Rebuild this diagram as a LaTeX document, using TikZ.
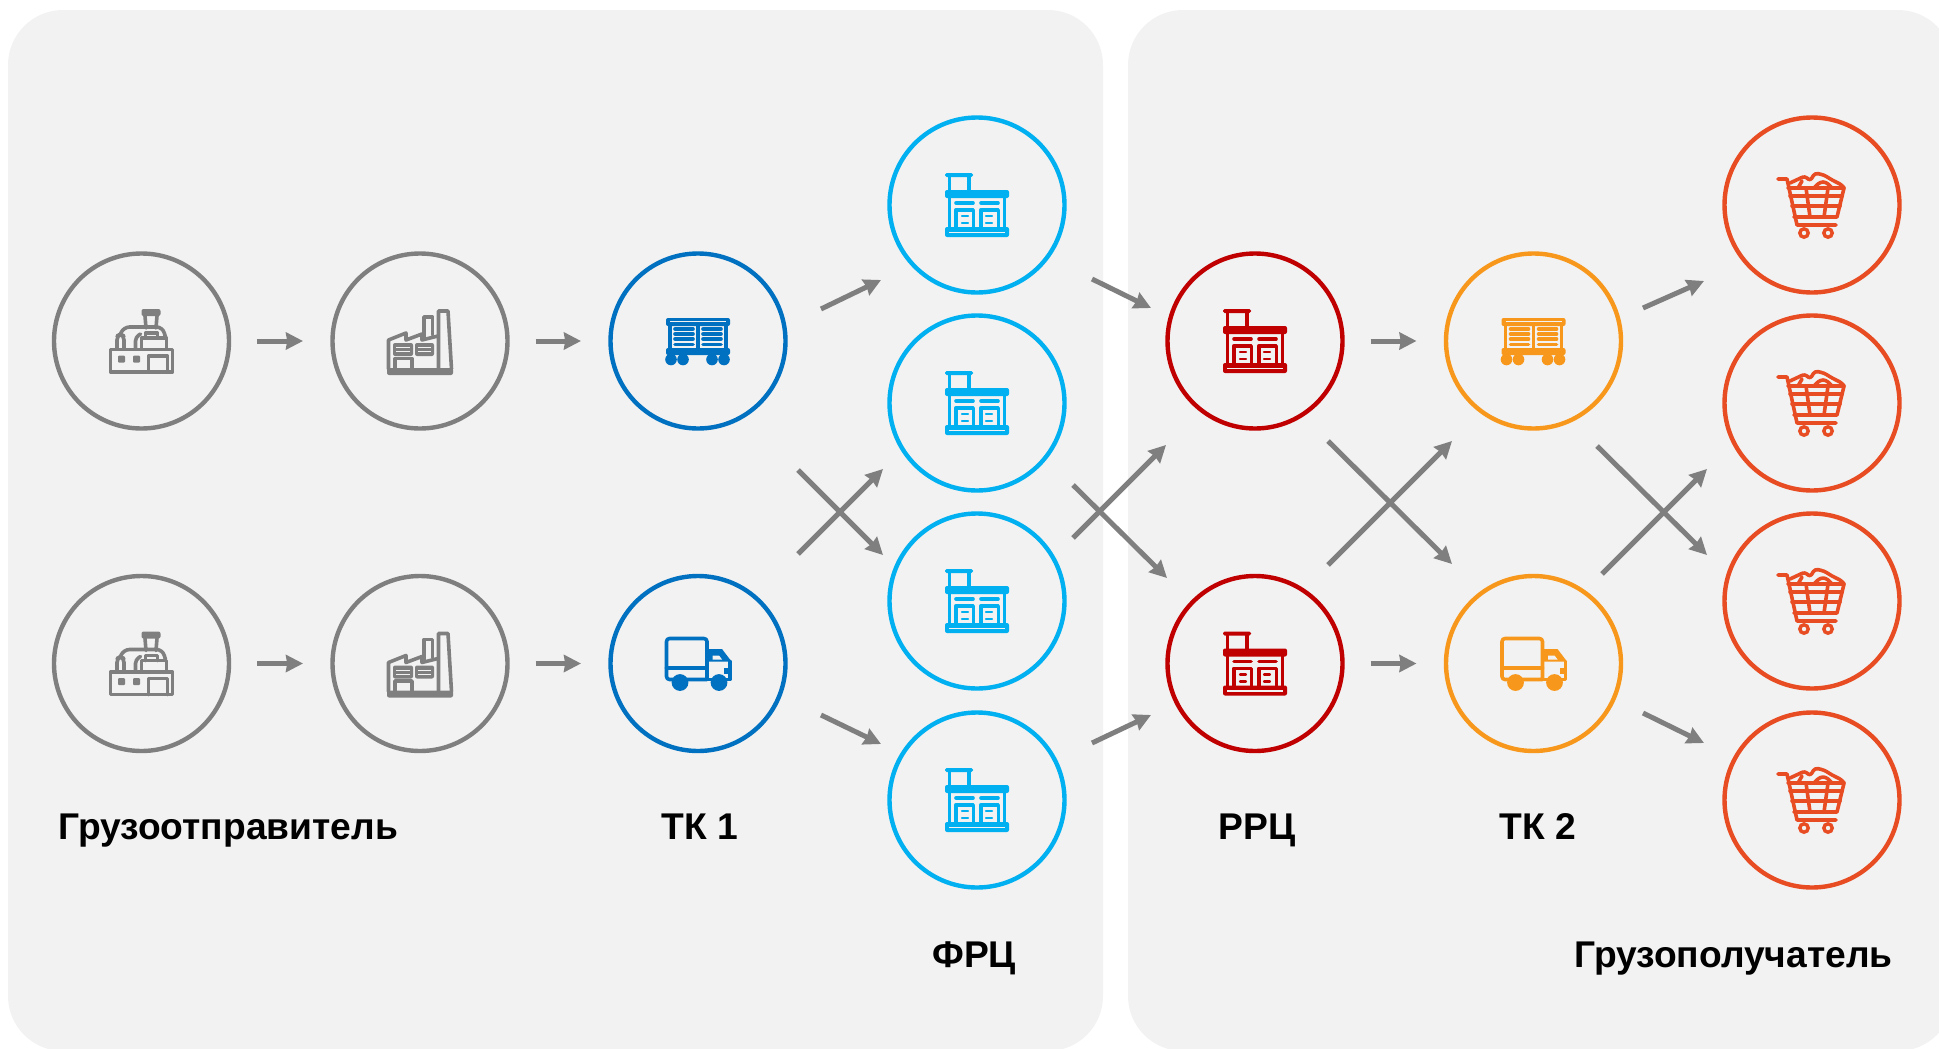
\documentclass[tikz,border=0pt]{standalone}
\usepackage{fontspec}
\setmainfont{Liberation Sans}
\usetikzlibrary{arrows.meta}

\definecolor{panelgray}{HTML}{F2F2F2}
\definecolor{sendergray}{HTML}{7F7F7F}
\definecolor{tkblue}{HTML}{0070C0}
\definecolor{frcblue}{HTML}{00B0F0}
\definecolor{rrcred}{HTML}{C00000}
\definecolor{tkorange}{HTML}{F7981D}
\definecolor{cartred}{HTML}{E84C22}

\tikzset{
 hub/.style={circle,draw=#1,line width=2.2pt,minimum size=87.5pt,inner sep=0pt,outer sep=0pt},
 flow/.style={draw=sendergray,line width=2.5pt,-{Stealth[length=8.5pt,width=8.5pt,inset=0.6pt]}},
 hflow/.style={flow,shorten <=14pt,shorten >=14.75pt},
 panel/.style={fill=panelgray,rounded corners=27.5pt},
 caption/.style={anchor=base west,inner sep=0pt,font=\fontsize{18.6}{22}\selectfont\bfseries},
 iconline/.style={line width=1.8pt,line cap=round,line join=round},
 thinline/.style={line width=1.1pt,line cap=round},
 warehouse/.pic={
  \fill[rounded corners=0.8pt] (-32,-32) rectangle (-4,-28);
  \draw[iconline] (-27.5,-28) -- (-27.5,-15);
  \draw[iconline] (-8,-28) -- (-8,-15);
  \fill[rounded corners=1pt] (-32,-15) rectangle (32,-7);
  \draw[iconline] (-27.5,-7) -- (-27.5,23);
  \draw[iconline] (27.5,-7) -- (27.5,23);
  \draw[iconline] (-21,-2) -- (-4,-2);
  \draw[iconline] (4,-2) -- (21,-2);
  \draw[iconline] (-21.3,23) -- (-21.3,5) -- (-3.7,5) -- (-3.7,23);
  \draw[iconline] (3.7,23) -- (3.7,5) -- (21.3,5) -- (21.3,23);
  \draw[thinline] (-15,11) -- (-9,11);
  \draw[thinline] (-15,18) -- (-9,18);
  \draw[thinline] (9,11) -- (15,11);
  \draw[thinline] (9,18) -- (15,18);
  \fill[rounded corners=1pt] (-32,22) rectangle (32,32);
  \draw[draw=panelgray,line width=0.6pt] (-28,27.5) -- (28,27.5);
 },
 traincar/.pic={
  \fill[rounded corners=1pt] (-32,-23) rectangle (32,-15);
  \draw[draw=panelgray,line width=0.4pt] (-28,-20) -- (28,-20);
  \draw[iconline] (-28,-15) -- (-28,7);
  \draw[iconline] (28,-15) -- (28,7);
  \draw[iconline] (0,-15) -- (0,7);
  \draw[iconline] (-23,-12) -- (-5,-12);
  \draw[iconline] (-23,-7) -- (-5,-7);
  \draw[iconline] (-23,-2) -- (-5,-2);
  \draw[iconline] (-23,3.5) -- (-5,3.5);
  \draw[iconline] (5,-12) -- (23,-12);
  \draw[iconline] (5,-7) -- (23,-7);
  \draw[iconline] (5,-2) -- (23,-2);
  \draw[iconline] (5,3.5) -- (23,3.5);
  \fill[rounded corners=1pt] (-32,7) rectangle (32,14);
  \fill (-27,18.5) circle [radius=2.9pt];
  \fill (-15,18.5) circle [radius=2.9pt];
  \fill (14,18.5) circle [radius=2.9pt];
  \fill (26,18.5) circle [radius=2.9pt];
 },
 lorry/.pic={
  \draw[iconline,rounded corners=1.5pt] (9,16) -- (9,-25) -- (-31.5,-25) -- (-31.5,16) -- (9,16);
  \draw[iconline] (-31.5,4.3) -- (9,4.3);
  \fill (9,-14.5) -- (24,-14.5) -- (33.5,-2) -- (9,-2) -- cycle;
  \fill[fill=panelgray] (14.7,-8) -- (21,-8) -- (24,-4) -- (14.7,-4) -- cycle;
  \draw[iconline] (32,-2) -- (32,16) -- (9,16);
  \fill (26,4) rectangle (32,10);
  \fill (-18,19) circle [radius=4.2pt];
  \fill (21,19) circle [radius=4.2pt];
 },
 cart/.pic={
  \draw[iconline] (-34,-26) -- (-25,-26) -- (-15,20) -- (24,20);
  \draw[iconline] (-24,-17) -- (32,-17) -- (25,12) -- (-18,12);
  \draw[iconline] (-22,-9) -- (30,-9);
  \draw[iconline] (-20,1) -- (28,1);
  \draw[iconline] (-6,-17) -- (-2,12);
  \draw[iconline] (16,-17) -- (12,12);
  \draw[iconline,rounded corners=1.5pt] (-22,-22) -- (-7,-29) -- (-2,-24) -- (3,-32) -- (12,-30) -- (20,-25) -- (30,-20) -- (32,-17);
  \draw[iconline,rounded corners=1.5pt] (2,-17) -- (8,-23) -- (14,-23) -- (20,-17);
  \draw[iconline,rounded corners=1.5pt] (-14,-17) -- (-10,-24);
  \draw[line width=1.7pt] (-8,28) circle [radius=2.1pt];
  \draw[line width=1.7pt] (16,28) circle [radius=2.1pt];
 },
 plantA/.pic={
  \draw[iconline] (-31,8.5) rectangle (31,31);
  \draw[iconline] (7,31) -- (7,15) -- (26,15) -- (26,31);
  \fill[rounded corners=0.5pt] (-23.5,14.5) rectangle (-16.5,21.5);
  \fill[rounded corners=0.5pt] (-8.5,14.5) rectangle (-1.5,21.5);
  \fill[rounded corners=1pt] (0,-32) rectangle (19,-25);
  \draw[iconline] (3.5,-25) -- (4.5,-13);
  \draw[iconline] (15.5,-25) -- (14.5,-13);
  \draw[iconline] (0,8) -- (0,-3) -- (25,-3) -- (25,8);
  \draw[iconline] (4,-3) -- (4,-8) -- (16,-8) -- (16,-3);
  \draw[iconline,rounded corners=2pt] (-24.5,8) -- (-24.5,-5) -- (-21,-7) -- (-17.5,-5) -- (-17.5,8);
  \draw[iconline,rounded corners=2pt] (-6,8) -- (-6,-4) -- (-1,-7);
  \draw[iconline,rounded corners=3pt] (-21,-7) -- (-18,-14) -- (21,-14) -- (24,-4);
 },
 plantB/.pic={
  \fill[rounded corners=1pt] (-33,27) rectangle (33,34);
  \draw[iconline] (-31.5,28) -- (-31.5,-1) -- (-14,-8) -- (-14,-1) -- (2,-7) -- (2,-1) -- (18,-5);
  \draw[iconline] (18.5,28) -- (18.5,-30) -- (28,-30) -- (31.5,28);
  \draw[iconline] (4,-3) -- (4,-24) -- (12.5,-24) -- (12.5,-6);
  \fill[rounded corners=1pt] (-27,2) rectangle (-7,15);
  \fill[rounded corners=1pt] (-5,2) rectangle (14,15);
  \draw[draw=panelgray,line width=0.4pt] (-24,6.5) -- (-10,6.5);
  \draw[draw=panelgray,line width=0.4pt] (-24,10.5) -- (-10,10.5);
  \draw[draw=panelgray,line width=0.4pt] (-2,6.5) -- (11,6.5);
  \draw[draw=panelgray,line width=0.4pt] (-2,10.5) -- (11,10.5);
  \draw[iconline] (-25,27) -- (-25,17.5) -- (-8,17.5) -- (-8,27);
 },
}

\begin{document}
\begin{tikzpicture}[x=0.5pt,y=-0.5pt]
\useasboundingbox (0,0) rectangle (1939,1049);
\clip (0,0) rectangle (1939,1049);

\fill[panel] (8,10) rectangle (1103,1051);
\fill[panel] (1128,10) rectangle (1953,1051);

\node[hub=sendergray] (sendAa) at (141.5,341) {};
\node[hub=sendergray] (sendAb) at (420,341) {};
\node[hub=tkblue] (tkAa) at (698,341) {};
\node[hub=sendergray] (sendBa) at (141.5,663.5) {};
\node[hub=sendergray] (sendBb) at (420,663.5) {};
\node[hub=tkblue] (tkAb) at (698,663.5) {};

\node[hub=frcblue] (frcA) at (977,205) {};
\node[hub=frcblue] (frcB) at (977,403) {};
\node[hub=frcblue] (frcC) at (977,601) {};
\node[hub=frcblue] (frcD) at (977,800) {};

\node[hub=rrcred] (rrcA) at (1255,341) {};
\node[hub=rrcred] (rrcB) at (1255,663.5) {};
\node[hub=tkorange] (tkBa) at (1533.5,341) {};
\node[hub=tkorange] (tkBb) at (1533.5,663.5) {};

\node[hub=cartred] (shopA) at (1812,205) {};
\node[hub=cartred] (shopB) at (1812,403) {};
\node[hub=cartred] (shopC) at (1812,601) {};
\node[hub=cartred] (shopD) at (1812,800) {};

\pic[color=sendergray] at (sendAa) {plantA};
\pic[color=sendergray] at (sendBa) {plantA};
\pic[color=sendergray] at (sendAb) {plantB};
\pic[color=sendergray] at (sendBb) {plantB};
\pic[color=tkblue] at (tkAa) {traincar};
\pic[color=tkblue] at (tkAb) {lorry};
\pic[color=frcblue] at (frcA) {warehouse};
\pic[color=frcblue] at (frcB) {warehouse};
\pic[color=frcblue] at (frcC) {warehouse};
\pic[color=frcblue] at (frcD) {warehouse};
\pic[color=rrcred] at (rrcA) {warehouse};
\pic[color=rrcred] at (rrcB) {warehouse};
\pic[color=tkorange] at (tkBa) {traincar};
\pic[color=tkorange] at (tkBb) {lorry};
\pic[color=cartred] at (shopA) {cart};
\pic[color=cartred] at (shopB) {cart};
\pic[color=cartred] at (shopC) {cart};
\pic[color=cartred] at (shopD) {cart};

\node[caption] (lblSender) at (58,839) {Грузоотправитель};
\node[caption] (lblTkA) at (661,839) {ТК 1};
\node[caption] (lblFrc) at (932,967) {ФРЦ};
\node[caption] (lblRrc) at (1218,839) {РРЦ};
\node[caption] (lblTkB) at (1499,839) {ТК 2};
\node[caption] (lblReceiver) at (1574,967) {Грузополучатель};

\draw[hflow] (sendAa) -- (sendAb);
\draw[hflow] (sendAb) -- (tkAa);
\draw[hflow] (sendBa) -- (sendBb);
\draw[hflow] (sendBb) -- (tkAb);
\draw[hflow] (rrcA) -- (tkBa);
\draw[hflow] (rrcB) -- (tkBb);

% free ends of the slanted arrows
\coordinate (tkAoutA) at (821,309);
\coordinate (frcInA) at (881,280);
\coordinate (tkAoutB) at (798,554);
\coordinate (frcInB) at (883,469);
\coordinate (tkAoutC) at (798,470);
\coordinate (frcInC) at (883,555);
\coordinate (tkAoutD) at (821,715);
\coordinate (frcInD) at (881,744);

\coordinate (frcOutA) at (1092,279);
\coordinate (rrcInA) at (1151,308);
\coordinate (frcOutB) at (1073,538);
\coordinate (rrcInB) at (1166,445);
\coordinate (frcOutC) at (1073,485);
\coordinate (rrcInC) at (1167,578);
\coordinate (frcOutD) at (1092,743);
\coordinate (rrcInD) at (1151,715);

\coordinate (rrcOutA) at (1328,565);
\coordinate (tkBinA) at (1452,441);
\coordinate (rrcOutB) at (1328,441);
\coordinate (tkBinB) at (1452,564);

\coordinate (tkBoutA) at (1643,308);
\coordinate (shopInA) at (1704,281);
\coordinate (tkBoutB) at (1602,574);
\coordinate (shopInB) at (1707,469);
\coordinate (tkBoutC) at (1597,446);
\coordinate (shopInC) at (1707,555);
\coordinate (tkBoutD) at (1643,713);
\coordinate (shopInD) at (1704,743);

\draw[flow] (tkAoutA) -- (frcInA);
\draw[flow] (tkAoutB) -- (frcInB);
\draw[flow] (tkAoutC) -- (frcInC);
\draw[flow] (tkAoutD) -- (frcInD);
\draw[flow] (frcOutA) -- (rrcInA);
\draw[flow] (frcOutB) -- (rrcInB);
\draw[flow] (frcOutC) -- (rrcInC);
\draw[flow] (frcOutD) -- (rrcInD);
\draw[flow] (rrcOutA) -- (tkBinA);
\draw[flow] (rrcOutB) -- (tkBinB);
\draw[flow] (tkBoutA) -- (shopInA);
\draw[flow] (tkBoutB) -- (shopInB);
\draw[flow] (tkBoutC) -- (shopInC);
\draw[flow] (tkBoutD) -- (shopInD);
\end{tikzpicture}
\end{document}
